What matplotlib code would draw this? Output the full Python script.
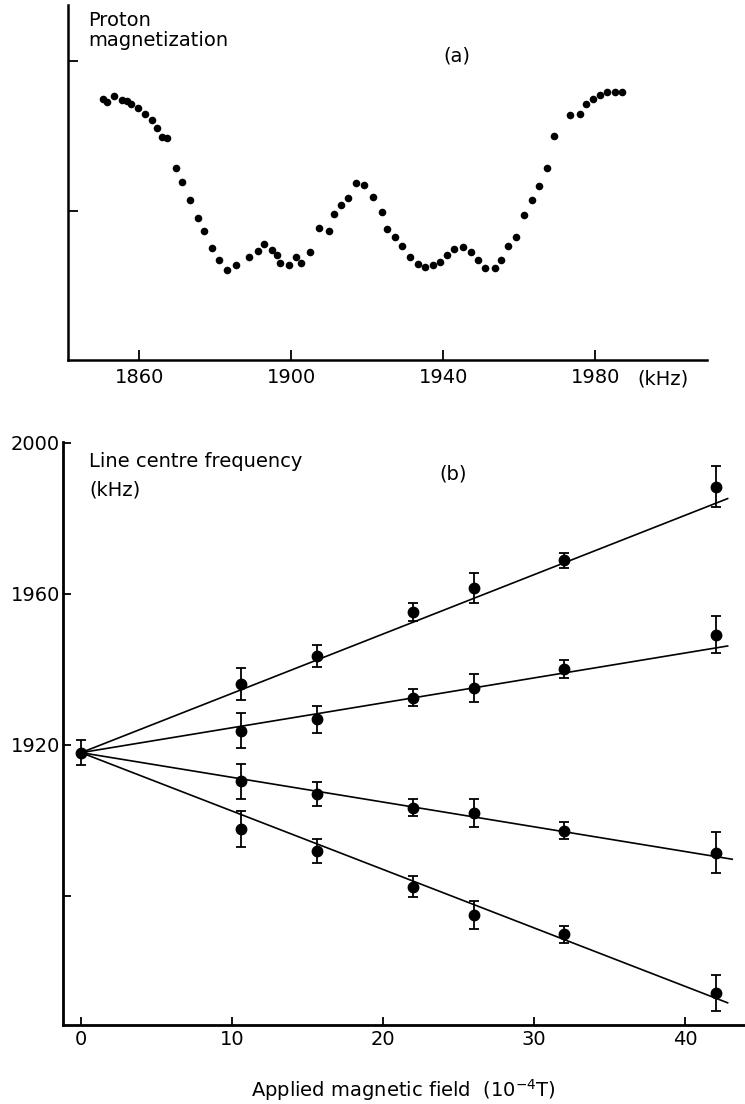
import numpy as np
import matplotlib.pyplot as plt

plt.rcParams['font.family'] = ['DejaVu Sans']

W, H = 745, 1104

# (a) 质子磁化 vs 频率
freq_a = [1850.3, 1851.5, 1853.4, 1855.5, 1856.7, 1857.9, 1859.5, 1861.4, 1863.2, 1864.7,
          1866.0, 1867.2, 1869.7, 1871.3, 1873.3, 1875.3, 1877.0, 1879.0, 1880.9, 1883.0,
          1885.5, 1888.9, 1891.1, 1892.9, 1894.9, 1896.2, 1897.0, 1899.3, 1901.1, 1902.6,
          1904.9, 1907.3, 1909.8, 1911.3, 1913.1, 1915.0, 1917.1, 1919.1, 1921.5, 1923.8,
          1925.3, 1927.2, 1929.1, 1931.2, 1933.2, 1935.1, 1937.4, 1939.2, 1940.9, 1942.9,
          1945.1, 1947.2, 1949.2, 1951.0, 1953.6, 1955.1, 1957.0, 1959.1, 1961.3, 1963.3,
          1965.2, 1967.4, 1969.2, 1973.4, 1976.0, 1977.5, 1979.3, 1981.3, 1983.0, 1985.2,
          1987.1]
mag_a = [1.744, 1.727, 1.764, 1.742, 1.733, 1.716, 1.687, 1.647, 1.604, 1.549,
         1.493, 1.482, 1.287, 1.193, 1.071, 0.949, 0.864, 0.749, 0.671, 0.604,
         0.638, 0.691, 0.731, 0.776, 0.738, 0.700, 0.649, 0.636, 0.691, 0.649,
         0.722, 0.882, 0.860, 0.980, 1.038, 1.082, 1.182, 1.169, 1.091, 0.989,
         0.876, 0.820, 0.764, 0.687, 0.642, 0.622, 0.638, 0.656, 0.700, 0.740,
         0.756, 0.722, 0.671, 0.616, 0.616, 0.671, 0.760, 0.820, 0.969, 1.069,
         1.164, 1.284, 1.498, 1.642, 1.647, 1.713, 1.749, 1.771, 1.793, 1.791,
         1.793]
xticks_a = [1860, 1900, 1940, 1980]

# (b) 线中心频率 vs 外加磁场
origin_f = 1917.9
origin_err = 3.3
field = [10.6, 15.6, 22.0, 26.0, 32.0, 42.0]
f_1 = [1936.1, 1943.5, 1955.1, 1961.4, 1968.9, 1988.3]
e_1 = [4.2, 3.0, 2.3, 4.0, 2.0, 5.4]
f_2 = [1923.7, 1926.7, 1932.5, 1934.9, 1940.0, 1949.1]
e_2 = [4.7, 3.5, 2.3, 3.7, 2.4, 4.9]
f_3 = [1910.3, 1907.0, 1903.3, 1901.8, 1897.2, 1891.4]
e_3 = [4.7, 3.2, 2.3, 3.7, 2.2, 5.4]
f_4 = [1897.7, 1891.9, 1882.4, 1874.9, 1869.8, 1854.3]
e_4 = [4.8, 3.2, 2.75, 3.8, 2.2, 4.7]
# 拟合直线斜率 (kHz / 1e-4 T)
slopes = [1.572, 0.66, -0.655, -1.548]
fit_end = [42.8, 42.8, 43.1, 42.8]


def fpos(x, y):
    return x / W, 1 - y / H


fig = plt.figure(figsize=(W / 100, H / 100), dpi=100)

# ---- (a)
ax1 = fig.add_axes([68 / W, 1 - 360 / H, (707 - 68) / W, (360 - 5) / H])
ax1.scatter(freq_a, mag_a, s=30, color='black', linewidths=0, clip_on=False)
ax1.set_xlim(1841.2, 2009.4)
ax1.set_ylim(0, 2.375)
ax1.set_xticks(xticks_a)
ax1.set_xticklabels([str(v) for v in xticks_a])
ax1.set_yticks([1, 2])
ax1.set_yticklabels([])
ax1.tick_params(direction='in', length=7, width=1.3, labelsize=14, pad=6)
for s in ['top', 'right']:
    ax1.spines[s].set_visible(False)
for s in ['left', 'bottom']:
    ax1.spines[s].set_linewidth(1.8)

fig.text(*fpos(88, 26.5), 'Proton', fontsize=14, va='baseline')
fig.text(*fpos(88, 46.5), 'magnetization', fontsize=14, va='baseline')
fig.text(*fpos(457, 62), '(a)', fontsize=14, va='baseline', ha='center')
fig.text(*fpos(663, 385), '(kHz)', fontsize=14, va='baseline', ha='center')

# ---- (b)
ax2 = fig.add_axes([63 / W, 1 - 1024.5 / H, (W - 63) / W, (1024.5 - 441.7) / H])
series = [(f_1, e_1), (f_2, e_2), (f_3, e_3), (f_4, e_4)]
for (fv, ev), k, xe in zip(series, slopes, fit_end):
    xs = np.array([0, xe])
    ax2.plot(xs, origin_f + k * xs, color='black', lw=1.2)
    ax2.errorbar(field, fv, yerr=ev, fmt='o', color='black', ms=7.5,
                 elinewidth=1.3, capsize=3.5, capthick=1.3)
ax2.errorbar([0], [origin_f], yerr=[origin_err], fmt='o', color='black', ms=7.5,
             elinewidth=1.3, capsize=3.5, capthick=1.3)

ax2.set_xlim(-1.2, 43.95)
ax2.set_ylim(1845.9, 2000.25)
ax2.set_xticks([0, 10, 20, 30, 40])
ax2.set_yticks([1880, 1920, 1960, 2000])
ax2.set_yticklabels(['', '1920', '1960', '2000'])
ax2.tick_params(direction='in', length=6, width=1.3, labelsize=14)
ax2.tick_params(axis='x', pad=4)
ax2.tick_params(axis='y', pad=2)
for s in ['top', 'right']:
    ax2.spines[s].set_visible(False)
for s in ['left', 'bottom']:
    ax2.spines[s].set_linewidth(2)

fig.text(*fpos(89, 466.7), 'Line centre frequency', fontsize=14, va='baseline')
fig.text(*fpos(89, 495), '(kHz)', fontsize=14, va='baseline')
fig.text(*fpos(453, 480), '(b)', fontsize=14, va='baseline', ha='center')
fig.text(*fpos(403, 1097), 'Applied magnetic field  (10$^{-4}$T)', fontsize=14,
         va='baseline', ha='center')

fig.savefig('out.png', dpi=100)
